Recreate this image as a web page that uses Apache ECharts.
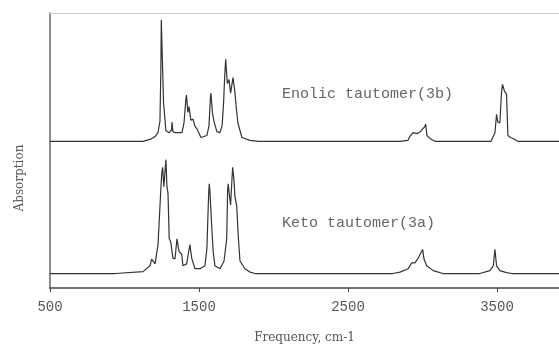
<!DOCTYPE html>
<html>
<head>
<meta charset="utf-8">
<script src="https://cdn.jsdelivr.net/npm/echarts@6/dist/echarts.min.js"></script>
<style>
  html, body { margin: 0; padding: 0; background: #fff; }
  #ir_chart { width: 559px; height: 349px; }
</style>
</head>
<body>
<div id="ir_chart"></div>
<script>
// 频率刻度 (cm-1)
var freqTicks = [500, 1500, 2500, 3500]

// Keto tautomer (3a): [frequency, absorption above its own baseline]
var ketoSpectrum = [
  [500, 0], [940, 0], [950, 1], [1124, 2], [1171, 8], [1182, 15], [1205, 10],
  [1225, 30], [1243, 85], [1250, 104], [1256, 110], [1264, 90], [1272, 90],
  [1278, 118], [1285, 90], [1292, 83], [1300, 36], [1310, 33], [1325, 16],
  [1339, 15], [1352, 36], [1366, 23], [1384, 20], [1392, 8], [1417, 10],
  [1439, 30], [1451, 16], [1473, 5], [1507, 5], [1540, 8], [1553, 26],
  [1562, 70], [1566, 86], [1569, 93], [1573, 86], [1577, 86], [1585, 50],
  [1595, 23], [1607, 8], [1641, 5], [1668, 13], [1686, 36], [1692, 86],
  [1696, 93], [1705, 80], [1712, 71], [1722, 100], [1726, 110], [1735, 96],
  [1741, 80], [1753, 70], [1763, 40], [1775, 13], [1808, 5], [1842, 1.5],
  [1876, 0], [2800, 0], [2849, 1.5], [2904, 5], [2927, 11], [2949, 11],
  [2971, 16], [2983, 15], [3001, 25], [3010, 15], [3028, 8], [3072, 3],
  [3137, 0], [3385, 0], [3452, 3], [3475, 8], [3486, 25], [3497, 8],
  [3519, 3], [3564, 1], [3600, 0], [3916, 0]
]

// Enolic tautomer (3b)
var enolSpectrum = [
  [500, 0], [1124, 0], [1171, 2], [1205, 5], [1225, 9], [1238, 21],
  [1244, 74], [1247, 126], [1253, 126], [1256, 74], [1262, 40], [1278, 11],
  [1300, 9], [1316, 12], [1319, 20], [1325, 10], [1339, 9], [1386, 9],
  [1400, 20], [1412, 44], [1416, 48], [1425, 30], [1433, 36], [1445, 22],
  [1460, 23], [1472, 16], [1486, 13], [1513, 4], [1553, 6], [1567, 16],
  [1576, 44], [1580, 50], [1590, 30], [1600, 21], [1620, 10], [1641, 9],
  [1655, 16], [1665, 40], [1672, 66], [1679, 85], [1690, 60], [1701, 64],
  [1712, 50], [1728, 66], [1741, 51], [1750, 35], [1761, 19], [1788, 4],
  [1842, 1], [1900, 0], [2850, 0], [2902, 1], [2915, 5], [2936, 9],
  [2963, 8], [2985, 10], [3001, 13], [3015, 15], [3021, 18], [3030, 6],
  [3050, 3], [3083, 0], [3460, 0], [3470, 1], [3486, 9], [3497, 28],
  [3505, 20], [3519, 19], [3530, 50], [3537, 59], [3550, 52], [3564, 49],
  [3573, 6], [3590, 4], [3607, 3], [3640, 0], [3916, 0]
]

// 两条谱线叠放的基线偏移
var ketoOffset = 15
var enolOffset = 152

function shift (data, offset) {
  return data.map(function (p) { return [p[0], p[1] + offset] })
}

var myChart = echarts.init(document.getElementById('ir_chart'))

var option = {
  animation: false,
  grid: {
    left: 50,
    right: 0,
    top: 13,
    bottom: 51,
  },
  xAxis: [
    {
      type: 'value',
      min: 500,
      max: 3916,
      name: 'Frequency, cm-1',
      nameLocation: 'middle',
      nameGap: 44,
      nameTextStyle: {
        color: '#555',
        fontFamily: 'DejaVu Serif',
        fontSize: 12,
      },
      axisLine: {
        lineStyle: { color: '#444', width: 1.5 },
      },
      axisTick: {
        show: true,
        length: 4,
        customValues: freqTicks,
        lineStyle: { color: '#444' },
      },
      axisLabel: {
        customValues: freqTicks,
        formatter: function (v) { return String(v) },
        margin: 12,
        color: '#555',
        fontFamily: 'Liberation Mono',
        fontSize: 14,
      },
      splitLine: { show: false },
    },
    {
      type: 'value',
      position: 'top',
      min: 500,
      max: 3916,
      axisLine: {
        lineStyle: { color: '#ccc', width: 1 },
      },
      axisTick: { show: false },
      axisLabel: { show: false },
      splitLine: { show: false },
    },
  ],
  yAxis: {
    type: 'value',
    min: 0,
    max: 285,
    axisLine: {
      show: true,
      lineStyle: { color: '#666', width: 1.5 },
    },
    axisTick: { show: false },
    axisLabel: { show: false },
    splitLine: { show: false },
  },
  graphic: [
    {
      type: 'text',
      x: 20,
      y: 178,
      rotation: Math.PI / 2,
      style: {
        text: 'Absorption',
        fill: '#555',
        font: '12px "DejaVu Serif"',
        align: 'center',
        verticalAlign: 'middle',
      },
    },
    {
      type: 'text',
      x: 282,
      y: 94,
      style: {
        text: 'Enolic tautomer(3b)',
        fill: '#666',
        font: '15px "Liberation Mono"',
        align: 'left',
        verticalAlign: 'middle',
      },
    },
    {
      type: 'text',
      x: 282,
      y: 223,
      style: {
        text: 'Keto tautomer(3a)',
        fill: '#666',
        font: '15px "Liberation Mono"',
        align: 'left',
        verticalAlign: 'middle',
      },
    },
  ],
  series: [
    {
      name: 'Keto tautomer (3a)',
      type: 'line',
      showSymbol: false,
      lineStyle: { color: '#333', width: 1.2 },
      data: shift(ketoSpectrum, ketoOffset),
    },
    {
      name: 'Enolic tautomer (3b)',
      type: 'line',
      showSymbol: false,
      lineStyle: { color: '#333', width: 1.2 },
      data: shift(enolSpectrum, enolOffset),
    },
  ],
}
myChart.setOption(option)
</script>
</body>
</html>
